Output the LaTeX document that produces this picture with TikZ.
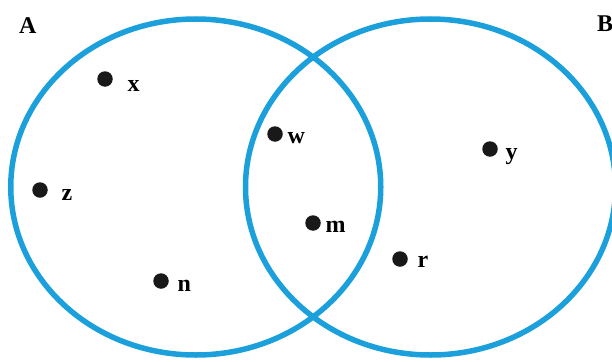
\documentclass[tikz,border=0pt]{standalone}
\usepackage{fontspec}
\setmainfont{Liberation Serif}
\usetikzlibrary{shapes.geometric, positioning}
\definecolor{vennblue}{RGB}{27,160,219}

\begin{document}
\begin{tikzpicture}[x=1pt, y=-1pt,
    setring/.style={ellipse, draw=vennblue, line width=5.5pt, minimum width=370pt, minimum height=336pt, inner sep=0pt},
    elem/.style={circle, fill=black!90, minimum size=15.5pt, inner sep=0pt},
    lbl/.style={inner sep=0pt, anchor=base west, font=\fontsize{24}{28}\selectfont\bfseries}]
    \useasboundingbox (0,0) rectangle (612,361);
    \clip (0,0) rectangle (612,361);

    \node[setring] (setA) at (195.75,187) {};
    \node[setring] (setB) at (430.5,187) {};
    \node[lbl] (nameA) at (19,34) {A};
    \node[lbl] (nameB) at (597,32) {B};

    \node[elem] (x) at (105,79) {};
    \node[elem] (z) at (40,190) {};
    \node[elem] (n) at (161,281) {};
    \node[elem] (w) at (275,134) {};
    \node[elem] (m) at (313,223) {};
    \node[elem] (y) at (490,149) {};
    \node[elem] (r) at (400,259) {};

    \node[lbl, right=14.5pt of x, anchor=base west, yshift=-12pt] (xlab) {x};
    \node[lbl, right=13.5pt of z, anchor=base west, yshift=-10pt] (zlab) {z};
    \node[lbl, right=8.5pt of n, anchor=base west, yshift=-10pt] (nlab) {n};
    \node[lbl, right=4.5pt of w, anchor=base west, yshift=-9pt] (wlab) {w};
    \node[lbl, right=4.5pt of m, anchor=base west, yshift=-9pt] (mlab) {m};
    \node[lbl, right=7.5pt of y, anchor=base west, yshift=-10pt] (ylab) {y};
    \node[lbl, right=9.5pt of r, anchor=base west, yshift=-8pt] (rlab) {r};
\end{tikzpicture}
\end{document}
